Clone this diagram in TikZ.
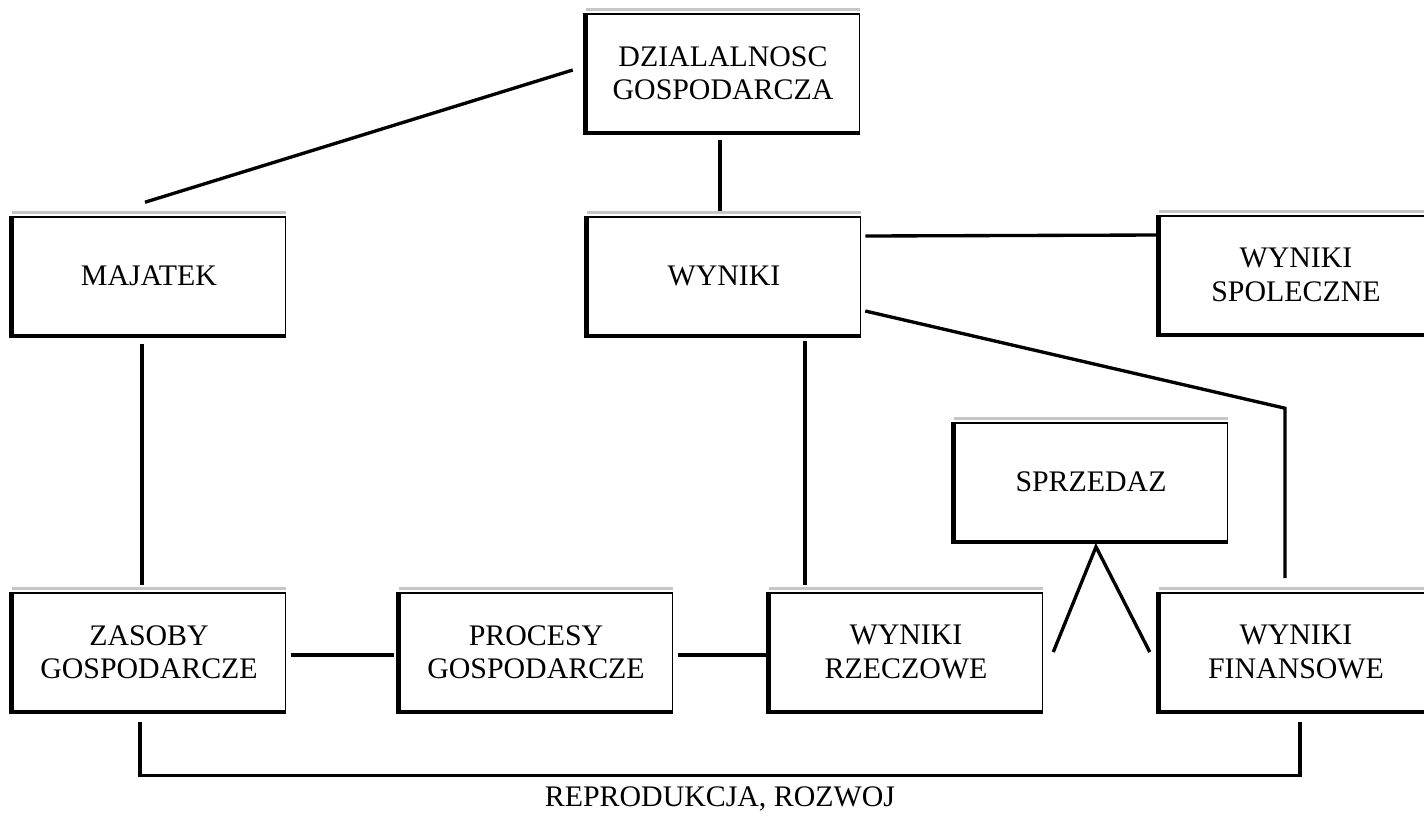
\documentclass[tikz,border=0pt]{standalone}
\usepackage{fontspec}
\setmainfont{Liberation Serif}

\begin{document}
\begin{tikzpicture}[x=0.02cm,y=-0.02cm]
            \tikzset{box/.style={rectangle,draw=black,line width=0.9pt,fill=white,
                minimum width=5.46cm,minimum height=2.36cm,align=center,
                font=\fontsize{17}{19}\selectfont},
              conn/.style={line width=1.9pt}}
            \useasboundingbox (0,0) rectangle (1424,816);
            \begin{scope}[every node/.style={box}]
                \node (dzial) at (723,73) {DZIALALNOSC\\GOSPODARCZA};
                \node (majatek) at (149,276) {MAJATEK};
                \node (wyniki) at (724,276) {WYNIKI};
                \node (spol) at (1296,275) {WYNIKI\\SPOLECZNE};
                \node (sprz) at (1091,482) {SPRZEDAZ};
                \node (zasoby) at (149,652) {ZASOBY\\GOSPODARCZE};
                \node (procesy) at (536,652) {PROCESY\\GOSPODARCZE};
                \node (rzecz) at (906,652) {WYNIKI\\RZECZOWE};
                \node (fin) at (1296,652) {WYNIKI\\FINANSOWE};
            \end{scope}
            % heavy left and bottom edges, grey top edge
            \foreach \n in {dzial,majatek,wyniki,spol,sprz,zasoby,procesy,rzecz,fin} {
                \draw[gray!45, line width=2pt] ([yshift=2pt]\n.north west) -- ([yshift=2pt]\n.north east);
                \draw[line width=2.6pt] (\n.north west) -- (\n.south west) -- (\n.south east);
            }
            \draw[conn] ([shift={(-13,-3)}]dzial.west) -- ([shift={(-4,-14)}]majatek.north);
            \draw[conn] ([shift={(-3,7)}]dzial.south) -- ([shift={(-4,-5)}]wyniki.north);
            \draw[conn] ([shift={(4,-40)}]wyniki.east) -- ([shift={(-2,-40)}]spol.west);
            \draw[conn] ([shift={(4,35)}]wyniki.east) -- ([shift={(-11,-184)}]fin.north) -- ([shift={(-11,-14)}]fin.north);
            \draw[conn] ([shift={(81,5)}]wyniki.south) -- ([shift={(-101,-7)}]rzecz.north);
            \draw[conn] ([shift={(-7,8)}]majatek.south) -- ([shift={(-7,-7)}]zasoby.north);
            \draw[conn] ([shift={(5,3)}]zasoby.east) -- ([shift={(-5,3)}]procesy.west);
            \draw[conn] ([shift={(5,3)}]procesy.east) -- ([shift={(-2,3)}]rzecz.west);
            \draw[conn] ([shift={(10,0)}]rzecz.east) -- ([shift={(5,5)}]sprz.south) -- ([shift={(-9,0)}]fin.west);
            \draw[conn] ([shift={(-9,10)}]zasoby.south) -- ++(0,54) -| ([shift={(4,10)}]fin.south);
            \node[font=\fontsize{17}{19}\selectfont, inner sep=1pt] (reprod) at (720,799) {REPRODUKCJA, ROZWOJ};
        \end{tikzpicture}
\end{document}
